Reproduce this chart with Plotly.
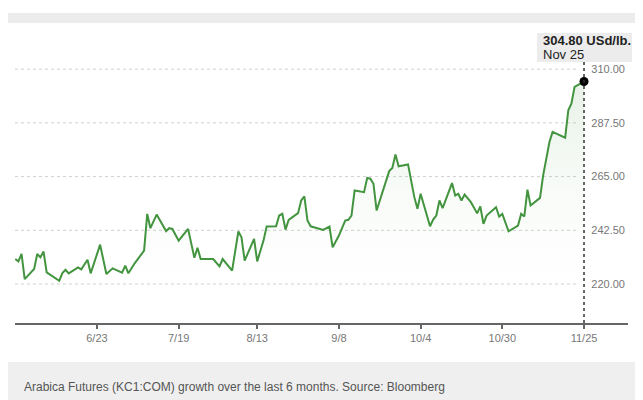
import plotly.graph_objects as go

dates = [
    "2024-05-28", "2024-05-29", "2024-05-30", "2024-05-31", "2024-06-03", "2024-06-04",
    "2024-06-05", "2024-06-06", "2024-06-07", "2024-06-11", "2024-06-12", "2024-06-13",
    "2024-06-14", "2024-06-17", "2024-06-18", "2024-06-20", "2024-06-21", "2024-06-24",
    "2024-06-26", "2024-06-28", "2024-07-01", "2024-07-02", "2024-07-03", "2024-07-05",
    "2024-07-08", "2024-07-09", "2024-07-10", "2024-07-12", "2024-07-15", "2024-07-16",
    "2024-07-17", "2024-07-19", "2024-07-22", "2024-07-24", "2024-07-25", "2024-07-26",
    "2024-07-30", "2024-08-01", "2024-08-02", "2024-08-05", "2024-08-07", "2024-08-08",
    "2024-08-09", "2024-08-12", "2024-08-13", "2024-08-15", "2024-08-16", "2024-08-19",
    "2024-08-20", "2024-08-21", "2024-08-22", "2024-08-23", "2024-08-26", "2024-08-27",
    "2024-08-28", "2024-08-29", "2024-08-30", "2024-09-02", "2024-09-03", "2024-09-05",
    "2024-09-06", "2024-09-08", "2024-09-10", "2024-09-11", "2024-09-12", "2024-09-13",
    "2024-09-16", "2024-09-17", "2024-09-18", "2024-09-19", "2024-09-20", "2024-09-24",
    "2024-09-25", "2024-09-26", "2024-09-27", "2024-09-30", "2024-10-02", "2024-10-03",
    "2024-10-04", "2024-10-07", "2024-10-08", "2024-10-09", "2024-10-10", "2024-10-11",
    "2024-10-14", "2024-10-15", "2024-10-16", "2024-10-17", "2024-10-18", "2024-10-20",
    "2024-10-22", "2024-10-23", "2024-10-24", "2024-10-25", "2024-10-28", "2024-10-29",
    "2024-10-30", "2024-11-01", "2024-11-04", "2024-11-05", "2024-11-06", "2024-11-07",
    "2024-11-08", "2024-11-11", "2024-11-12", "2024-11-14", "2024-11-15", "2024-11-19",
    "2024-11-20", "2024-11-21", "2024-11-22", "2024-11-25",
]
prices = [
    230.5, 229.5, 232.6, 222.1, 226.3, 232.6,
    231.2, 233.6, 224.9, 221.4, 224.6, 226.0,
    224.5, 227.0, 226.2, 230.2, 224.5, 236.5,
    224.2, 226.6, 224.8, 227.7, 224.5, 228.7,
    234.0, 249.4, 243.4, 249.1, 242.2, 243.4,
    243.1, 238.2, 243.1, 231.0, 235.2, 230.5,
    230.5, 227.4, 230.5, 225.6, 242.0, 239.6,
    229.8, 238.9, 229.5, 238.2, 244.1, 244.2,
    248.7, 249.4, 242.8, 246.9, 249.7, 255.0,
    256.7, 246.6, 244.2, 243.1, 242.7, 244.1,
    235.4, 240.3, 246.6, 246.9, 248.7, 259.2,
    258.5, 264.4, 264.1, 262.0, 250.8, 267.3,
    268.6, 274.3, 269.3, 270.1, 256.4, 251.5,
    257.8, 244.2, 247.0, 248.7, 255.0, 251.8,
    262.3, 257.1, 257.8, 255.0, 257.5, 254.3,
    249.6, 252.5, 245.2, 248.7, 252.2, 248.3,
    249.4, 242.1, 244.5, 249.4, 248.3, 259.5,
    252.9, 256.1, 265.5, 279.5, 283.7, 281.3,
    292.8, 295.6, 302.6, 304.8,
]
x_tick_vals = ["2024-06-23", "2024-07-19", "2024-08-13", "2024-09-08",
               "2024-10-04", "2024-10-30", "2024-11-25"]
x_tick_text = ["6/23", "7/19", "8/13", "9/8", "10/4", "10/30", "11/25"]
y_tick_vals = [220, 242.5, 265, 287.5, 310]
y_tick_text = ["220.00", "242.50", "265.00", "287.50", "310.00"]
last_label = "304.80 USd/lb."
last_date_label = "Nov 25"
caption = "Arabica Futures (KC1:COM) growth over the last 6 months. Source: Bloomberg"

LINE = "#43943f"
FONT = "Liberation Sans, Arial, sans-serif"

fig = go.Figure()
fig.add_trace(go.Scatter(
    x=dates, y=prices, mode="lines",
    line=dict(color=LINE, width=2),
    fill="tozeroy",
    fillgradient=dict(type="vertical", start=203.7, stop=305,
                      colorscale=[[0, "rgba(255,255,255,0)"], [1, "rgba(67,148,63,0.13)"]]),
    hoverinfo="skip", showlegend=False,
))
fig.add_trace(go.Scatter(
    x=[dates[-1]], y=[prices[-1]], mode="markers",
    marker=dict(color="#000000", size=9),
    hoverinfo="skip", showlegend=False,
))

shapes = []
for v in y_tick_vals:
    shapes.append(dict(type="line", xref="paper", yref="y", x0=0, x1=0.918, y0=v, y1=v,
                       line=dict(color="#cfcfcf", width=1, dash="dot"), layer="below"))
shapes.append(dict(type="line", xref="x", yref="paper", x0=dates[-1], x1=dates[-1],
                   y0=0, y1=0.922, line=dict(color="#333333", width=1.5, dash="dot")))
# top grey bar
shapes.append(dict(type="rect", xref="paper", yref="paper", x0=-0.013, x1=1.03,
                   y0=1.060, y1=1.095, line=dict(width=0), fillcolor="#ececec"))
# caption band
shapes.append(dict(type="rect", xref="paper", yref="paper", x0=-0.013, x1=1.03,
                   y0=-0.28, y1=-0.138, line=dict(width=0), fillcolor="#efefef"))
# tooltip box
shapes.append(dict(type="rect", xref="paper", yref="paper", x0=0.8516, x1=1.0065,
                   y0=0.9223, y1=1.0247, line=dict(width=0), fillcolor="#ececec"))

annotations = [
    dict(x=0.8573, xref="paper", y=0.9975, yref="paper", xanchor="left", yanchor="middle",
         showarrow=False, text=f"<b>{last_label}</b>",
         font=dict(family=FONT, size=13, color="#222222")),
    dict(x=0.8573, xref="paper", y=0.947, yref="paper", xanchor="left", yanchor="middle",
         showarrow=False, text=last_date_label,
         font=dict(family=FONT, size=13, color="#222222")),
    dict(x=0.011, xref="paper", y=-0.225, yref="paper", xanchor="left", yanchor="middle",
         showarrow=False, text=caption,
         font=dict(family=FONT, size=12, color="#555555")),
]

fig.update_layout(
    width=635, height=392,
    margin=dict(l=7, r=15, t=32, b=77),
    paper_bgcolor="white", plot_bgcolor="white",
    shapes=shapes, annotations=annotations,
    font=dict(family=FONT),
    xaxis=dict(
        type="date", range=["2024-05-27 22:00", "2024-12-09 00:00"],
        tickvals=x_tick_vals, ticktext=x_tick_text,
        showgrid=False, zeroline=False,
        showline=True, linecolor="#666666", linewidth=1.5,
        ticks="outside", ticklen=4, tickcolor="#666666", tickwidth=1.5,
        tickfont=dict(size=11, color="#777777"),
    ),
    yaxis=dict(
        range=[203.7, 322.2], side="right", ticklabelposition="inside",
        tickvals=y_tick_vals, ticktext=y_tick_text,
        showgrid=False, zeroline=False, showline=False, ticks="",
        tickfont=dict(size=11, color="#777777"),
    ),
)

fig.write_html("out.html")
